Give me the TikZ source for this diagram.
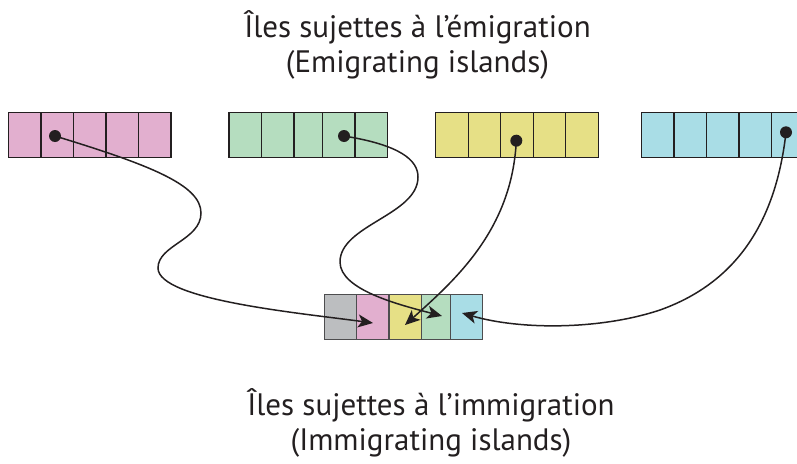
\documentclass[tikz,border=0pt]{standalone}
\usepackage{fontspec}
\setmainfont{PT Sans}
\usetikzlibrary{arrows.meta}
\definecolor{pinkc}{HTML}{E2AFCF}
\definecolor{greenc}{HTML}{B5DDBF}
\definecolor{yellowc}{HTML}{E6E086}
\definecolor{bluec}{HTML}{A9DDE6}
\definecolor{grayc}{HTML}{BCBEC0}
\definecolor{ink}{HTML}{231F20}
\definecolor{lowline}{HTML}{4D4D4F}
\tikzset{
  cell/.style={draw=ink, line width=1.4pt, inner sep=0pt, outer sep=0pt,
    minimum height=45pt, anchor=south west},
  lowcell/.style={draw=lowline, line width=1.4pt, inner sep=0pt, outer sep=0pt,
    minimum height=44.6pt, anchor=south west},
  dotn/.style={circle, fill=ink, inner sep=0pt, minimum size=12pt},
  link/.style={draw=ink, line width=1.5pt,
    -{Stealth[length=15pt, width=13pt, inset=4pt]}},
  title/.style={align=center, font=\fontsize{31}{35}\selectfont, text=ink, inner sep=0pt}
}
\begin{document}
\begin{tikzpicture}[x=1pt, y=-1pt]
\useasboundingbox (0,0) rectangle (797,463);
\clip (0,0) rectangle (797,463);
% top rows
\foreach \i in {0,...,4} {
  \node[cell, fill=pinkc, minimum width=32.5pt] (p\i) at ({8.3+32.5*\i},157.3) {};
  \node[cell, fill=yellowc, minimum width=32.5pt] (y\i) at ({435.7+32.5*\i},157.3) {};
  \node[cell, fill=bluec, minimum width=32.5pt] (b\i) at ({641.3+32.5*\i},157.3) {};
}
\node[cell, fill=greenc, minimum width=32.7pt] (g0) at (229,157.3) {};
\node[cell, fill=greenc, minimum width=32.3pt] (g1) at (261.7,157.3) {};
\node[cell, fill=greenc, minimum width=28.3pt] (g2) at (294,157.3) {};
\node[cell, fill=greenc, minimum width=32.7pt] (g3) at (322.3,157.3) {};
\node[cell, fill=greenc, minimum width=32.3pt] (g4) at (355,157.3) {};
% bottom row
\node[lowcell, fill=grayc, minimum width=32pt] (l0) at (324.7,339.3) {};
\node[lowcell, fill=pinkc, minimum width=32.3pt] (l1) at (356.7,339.3) {};
\node[lowcell, fill=yellowc, minimum width=32.7pt] (l2) at (389,339.3) {};
\node[lowcell, fill=greenc, minimum width=28.6pt] (l3) at (421.7,339.3) {};
\node[lowcell, fill=bluec, minimum width=32pt] (l4) at (450.3,339.3) {};
% dots
\node[dotn] (dp) at (55,136) {};
\node[dotn] (dg) at (344,136) {};
\node[dotn] (dy) at (516.3,140.7) {};
\node[dotn] (db) at (786,132.3) {};
% arrow tips
\coordinate (tp) at (373,323);
\coordinate (tg) at (442,316);
\coordinate (ty) at (405,325);
\coordinate (tb) at (462,313);
% connectors
\draw[link] (dp.center) .. controls (150,165) and (201,185) .. (201,213)
  .. controls (201,240) and (158,245) .. (158,268)
  .. controls (158,300) and (300,313) .. (tp);
\draw[link] (dg.center) .. controls (400,145) and (418,160) .. (418,177)
  .. controls (418,215) and (340,225) .. (340,262)
  .. controls (340,290) and (400,305) .. (tg);
\draw[link] (dy.center) .. controls (512,230) and (455,280) .. (ty);
\draw[link] (db.center) .. controls (775,230) and (730,285) .. (660,310)
  .. controls (600,330) and (520,330) .. (tb);
% titles
\node[title] (top) at (417.5,45) {Îles sujettes à l’émigration\\(Emigrating islands)};
\node[title] (bot) at (431,423) {Îles sujettes à l’immigration\\(Immigrating islands)};
\end{tikzpicture}
\end{document}
